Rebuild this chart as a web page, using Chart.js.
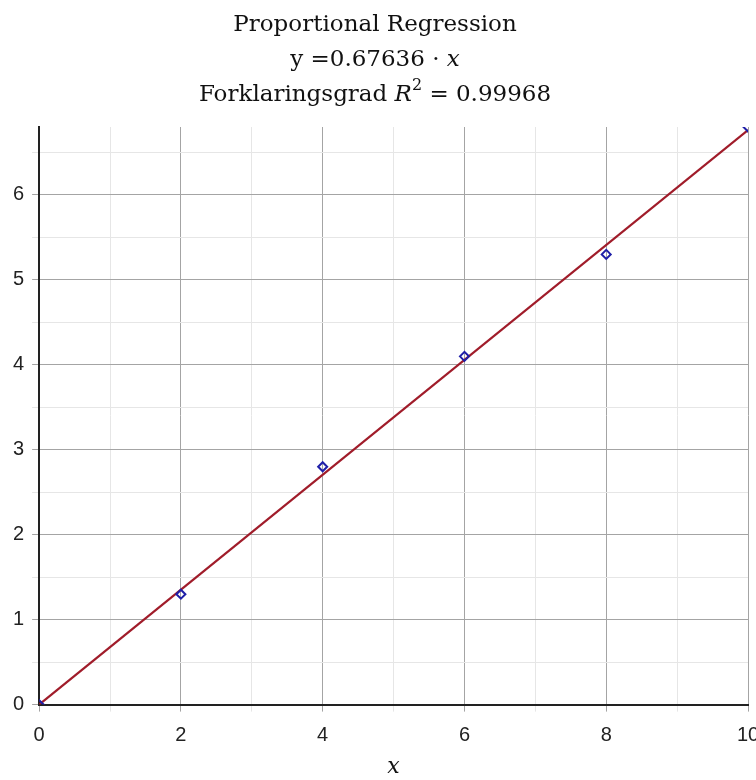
<!DOCTYPE html>
<html>
<head>
<meta charset="utf-8">
<style>
  html, body { margin: 0; padding: 0; background: #fff; }
  #wrap { width: 756px; height: 780px; }
</style>
</head>
<body>
<div id="wrap">
    <canvas id="myChart" width="756" height="780"></canvas>
</div>

<script src="https://cdn.jsdelivr.net/npm/chart.js"></script>

<script>
    // data
    const xValues = [0, 2, 4, 6, 8, 10];
    const yValues = [0, 1.3, 2.8, 4.1, 5.3, 6.8];
    const slope = 0.67636;
    const rSquared = 0.99968;
    const titleText = 'Proportional Regression';
    const xLabel = 'x';

    const points = xValues.map((x, i) => ({ x: x, y: yValues[i] }));
    const xMin = Math.min(...xValues), xMax = Math.max(...xValues);
    const fitLine = [{ x: xMin, y: slope * xMin }, { x: xMax, y: slope * xMax }];

    const serif = '"DejaVu Serif", "Liberation Serif", serif';

    // title with italic bits and the superscript, drawn on the canvas
    const titleLines = [
        { y: 31, parts: [{ t: titleText }] },
        { y: 66, parts: [{ t: 'y =' + slope + ' \u00b7 ' }, { t: 'x', it: true }] },
        { y: 101, parts: [{ t: 'Forklaringsgrad ' }, { t: 'R', it: true }, { t: '2', sup: true }, { t: ' = ' + rSquared }] }
    ];

    const titlePlugin = {
        id: 'mathTitle',
        afterDraw(chart) {
            const c = chart.ctx;
            const cx = 375;
            c.save();
            c.fillStyle = '#111';
            c.textBaseline = 'alphabetic';
            c.textAlign = 'left';
            const fontOf = p => (p.it ? 'italic ' : '') + (p.sup ? '16px ' : '23px ') + serif;
            titleLines.forEach(line => {
                let w = 0;
                line.parts.forEach(p => { c.font = fontOf(p); w += c.measureText(p.t).width; });
                let x = cx - w / 2;
                line.parts.forEach(p => {
                    c.font = fontOf(p);
                    c.fillText(p.t, x, p.sup ? line.y - 11 : line.y);
                    x += c.measureText(p.t).width;
                });
            });
            c.restore();
        }
    };

    const ctx = document.getElementById('myChart');
    new Chart(ctx, {
        type: 'scatter',
        data: {
            datasets: [
                {
                    label: 'data',
                    data: points,
                    pointStyle: 'rectRot',
                    pointRadius: 4.5,
                    pointBorderWidth: 2,
                    pointBorderColor: '#1f1fa8',
                    pointBackgroundColor: 'rgba(255,255,255,0)',
                    showLine: false,
                    order: 0
                },
                {
                    label: 'fit',
                    data: fitLine,
                    showLine: true,
                    borderColor: '#a01c2a',
                    borderWidth: 2.2,
                    pointRadius: 0,
                    order: 1
                }
            ]
        },
        options: {
            responsive: false,
            animation: false,
            layout: { padding: { top: 127, left: 5, right: 0, bottom: 0 } },
            plugins: {
                legend: { display: false },
                tooltip: { enabled: false }
            },
            scales: {
                x: {
                    type: 'linear',
                    min: 0,
                    max: 10,
                    // let the last label run off the edge like the original
                    afterFit: s => { s.paddingRight = 8; },
                    border: { color: '#222', width: 2 },
                    grid: {
                        color: c => c.tick.value % 2 === 0 ? '#a4a4a4' : '#e6e6e6',
                        tickLength: 7
                    },
                    ticks: {
                        stepSize: 1,
                        autoSkip: false,
                        maxRotation: 0,
                        padding: 12,
                        color: '#222',
                        font: { family: '"Liberation Sans", sans-serif', size: 20 },
                        callback: v => v % 2 === 0 ? v : ''
                    },
                    title: {
                        display: true,
                        text: xLabel,
                        color: '#111',
                        font: { family: serif, style: 'italic', size: 22 },
                        padding: { top: -6, bottom: 0 }
                    }
                },
                y: {
                    min: 0,
                    max: 6.8,
                    border: { color: '#222', width: 2 },
                    grid: {
                        color: c => Number.isInteger(c.tick.value) ? '#a4a4a4'
                            : (Math.abs(c.tick.value * 2 - Math.round(c.tick.value * 2)) < 1e-6 ? '#e6e6e6' : 'rgba(0,0,0,0)'),
                        tickLength: 7
                    },
                    ticks: {
                        stepSize: 0.5,
                        autoSkip: false,
                        padding: 8,
                        color: '#222',
                        font: { family: '"Liberation Sans", sans-serif', size: 20 },
                        callback: v => Number.isInteger(v) ? v : ''
                    }
                }
            }
        },
        plugins: [titlePlugin]
    });
</script>
</body>
</html>
